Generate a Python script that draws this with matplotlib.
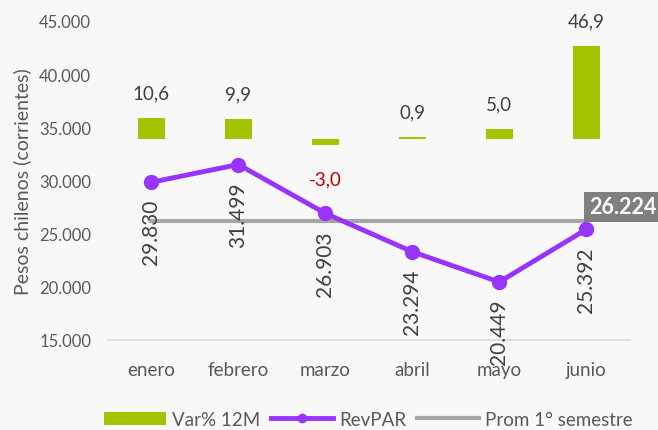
import matplotlib.pyplot as plt
import numpy as np

meses = ['enero', 'febrero', 'marzo', 'abril', 'mayo', 'junio']
revpar = [29830, 31499, 26903, 23294, 20449, 25392]
var12m = [10.6, 9.9, -3.0, 0.9, 5.0, 46.9]
prom = 26224

verde = '#A5C400'
morado = '#9933FF'
gris = '#A6A6A6'
txt = '#404040'

plt.rcParams['font.family'] = ['Lato', 'DejaVu Sans']

fig = plt.figure(figsize=(6.58, 4.31), dpi=100, facecolor='#f8f8f8')
ax = fig.add_axes([0.164, 0.209, 0.793, 0.740])
ax2 = ax.twinx()
x = np.arange(len(meses))

# barras Var% en eje secundario (oculto)
ax2.bar(x, var12m, width=0.31, color=verde, label='Var% 12M')
ax2.set_ylim(-101.6, 59.7)
ax2.axis('off')
for xi, v in zip(x, var12m):
    lab = ('%.1f' % v).replace('.', ',')
    if v >= 0:
        ax2.annotate(lab, (xi, v), xytext=(0, 12), textcoords='offset points',
                     ha='center', va='bottom', fontsize=13.5, color=txt)
    else:
        ax2.annotate(lab, (xi, v), xytext=(0, -18), textcoords='offset points',
                     ha='center', va='top', fontsize=13.5, color='#C00000')

ax.set_zorder(ax2.get_zorder() + 1)
ax.patch.set_visible(False)

ax.plot([x[0], x[-1]], [prom, prom], color=gris, lw=3, label='Prom 1° semestre', zorder=2)
ax.plot(x, revpar, color=morado, lw=3.5, marker='o', ms=10, label='RevPAR', zorder=3)
for xi, v in zip(x, revpar):
    ax.annotate(('{:,}'.format(v)).replace(',', '.'), (xi, v), xytext=(0, -12),
                textcoords='offset points', rotation=90, ha='center', va='top',
                fontsize=15, color=txt)

ax.text(x[-1] + 0.03, prom + 300, '{:,}'.format(prom).replace(',', '.'), ha='left', va='bottom',
        fontsize=15.5, fontweight='bold', color='white',
        bbox=dict(boxstyle='square,pad=0.22', fc='#7F7F7F', ec='none'), zorder=4)

ax.set_ylim(15000, 45000)
ax.set_xlim(-0.5, 5.5)
ax.set_yticks(range(15000, 45001, 5000))
ax.set_yticklabels(['{:,}'.format(t).replace(',', '.') for t in range(15000, 45001, 5000)])
ax.set_xticks(x)
ax.set_xticklabels(meses)
ax.tick_params(axis='both', length=0, labelsize=12, colors='#595959')
ax.tick_params(axis='x', pad=15, labelsize=13.5)
ax.tick_params(axis='y', pad=12)
for s in ['top', 'right', 'left']:
    ax.spines[s].set_visible(False)
ax.spines['bottom'].set_color('#D9D9D9')
ax.spines['bottom'].set_linewidth(1.2)
ax.set_ylabel('Pesos chilenos (corrientes)', fontsize=14, color='#595959', labelpad=6)

h1, l1 = ax2.get_legend_handles_labels()
h2, l2 = ax.get_legend_handles_labels()
fig.legend([h1[0], h2[1], h2[0]], [l1[0], l2[1], l2[0]], loc='center', ncol=3,
           bbox_to_anchor=(0.56, 0.025), frameon=False, fontsize=13.5, markerscale=0.6,
           handlelength=3.3, handletextpad=0.3, columnspacing=0.6, labelcolor='#595959')

fig.savefig('out.png', dpi=100, facecolor=fig.get_facecolor())
